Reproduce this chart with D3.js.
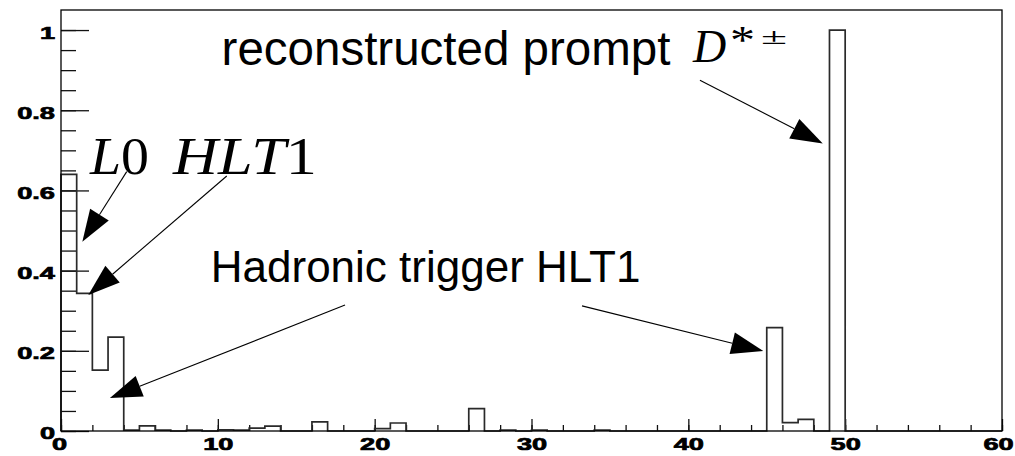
<!DOCTYPE html>
<html>
<head>
<meta charset="utf-8">
<script src="https://cdn.jsdelivr.net/npm/d3@7"></script>
<style>
  html, body { margin: 0; padding: 0; background: #fff; }
  svg { display: block; }
</style>
</head>
<body>
<svg id="chart" width="1015" height="456"></svg>
<script>
// Histogram bin contents, one value per unit bin from 0 to 60
const binEdges = d3.range(0, 61);
const binValues = [
  0.640, 0.343, 0.152, 0.234, 0.002, 0.013, 0.002, 0.000, 0.002, 0.000,
  0.003, 0.002, 0.007, 0.012, 0.000, 0.000, 0.023, 0.000, 0.000, 0.000,
  0.006, 0.020, 0.000, 0.000, 0.000, 0.000, 0.056, 0.000, 0.002, 0.000,
  0.002, 0.000, 0.000, 0.000, 0.002, 0.000, 0.000, 0.000, 0.000, 0.000,
  0.000, 0.000, 0.000, 0.000, 0.000, 0.258, 0.021, 0.029, 0.000, 1.000,
  0.000, 0.000, 0.000, 0.000, 0.000, 0.000, 0.000, 0.000, 0.000, 0.000
];

// Axis ticks and labels
const xMajorTicks = [0, 10, 20, 30, 40, 50, 60];
const xMinorTicks = d3.range(0, 61, 2);
const yMajorTicks = [0, 0.2, 0.4, 0.6, 0.8, 1];
const yMinorTicks = d3.range(0, 21).map(i => i * 0.05);
const yTickLabels = ["0", "0.2", "0.4", "0.6", "0.8", "1"];
const xTickLabels = ["0", "10", "20", "30", "40", "50", "60"];

// Annotations: arrows from [x, y] start to [x, y] tip, in data units
const arrowStarts = [[4.19, 0.647], [10.57, 0.636], [18.11, 0.314], [33.22, 0.312], [40.74, 0.875]];
const arrowTips   = [[1.36, 0.472], [1.74, 0.339], [3.12, 0.082], [44.78, 0.1995], [48.57, 0.717]];

const svg = d3.select("#chart");
const W = 1015, H = 456;
const margin = { top: 10, right: 13, bottom: 25, left: 61 };

const x = d3.scaleLinear().domain([0, 60]).range([margin.left, W - margin.right]);
const y = d3.scaleLinear().domain([0, 1.05]).range([H - margin.bottom, margin.top]);

const tickFont = "'Liberation Sans', Arial, Helvetica, sans-serif";

// Minor ticks
const gYMinor = svg.append("g").attr("transform", `translate(${x(0)},0)`)
  .call(d3.axisLeft(y).tickValues(yMinorTicks).tickSize(-15).tickFormat(""));
const gXMinor = svg.append("g").attr("transform", `translate(0,${y(0)})`)
  .call(d3.axisBottom(x).tickValues(xMinorTicks).tickSize(-6).tickFormat(""));

// Major ticks with labels
const gY = svg.append("g").attr("transform", `translate(${x(0)},0)`)
  .call(d3.axisLeft(y).tickValues(yMajorTicks).tickSize(-28)
    .tickFormat((d, i) => yTickLabels[i]));
const gX = svg.append("g").attr("transform", `translate(0,${y(0)})`)
  .call(d3.axisBottom(x).tickValues(xMajorTicks).tickSize(-12).tickPadding(6.5)
    .tickFormat((d, i) => xTickLabels[i]));

[gYMinor, gXMinor, gY, gX].forEach(g => {
  g.select(".domain").remove();
  g.selectAll(".tick line").attr("stroke", "#111").attr("stroke-width", 1.3);
});

function styleTickText(sel) {
  sel.attr("font-family", tickFont)
    .attr("font-weight", "bold")
    .attr("font-size", 17)
    .attr("fill", "#000")
    .attr("stroke", "#000")
    .attr("stroke-width", 0.7);
}

gY.selectAll(".tick text")
  .attr("x", 0)
  .attr("dy", "0.47em")
  .attr("transform", "translate(-6,0) scale(1.6,1)")
  .call(styleTickText);

gX.selectAll(".tick text")
  .attr("transform", "scale(1.6,1)")
  .call(styleTickText);
// end labels are nudged to stay inside the page
gX.selectAll(".tick text").filter(d => d === 0).attr("x", -1.2);
gX.selectAll(".tick text").filter(d => d === 60).attr("x", -2.5);

// Histogram outline
const outline = [[binEdges[0], 0]];
binValues.forEach((v, i) => {
  outline.push([binEdges[i], v]);
  outline.push([binEdges[i + 1], v]);
});
outline.push([binEdges[binEdges.length - 1], 0]);

svg.append("path")
  .datum(outline)
  .attr("fill", "none")
  .attr("stroke", "#2a2a2a")
  .attr("stroke-width", 1.7)
  .attr("d", d3.line().x(d => x(d[0])).y(d => y(d[1])));

// Frame
svg.append("rect")
  .attr("x", x(0)).attr("y", y(1.05))
  .attr("width", x(60) - x(0)).attr("height", y(0) - y(1.05))
  .attr("fill", "none").attr("stroke", "#000").attr("stroke-width", 1.3);

// Arrows with filled triangular heads
const headLen = 32, headHalf = 11;
arrowStarts.forEach((s, i) => {
  const t = arrowTips[i];
  const x0 = x(s[0]), y0 = y(s[1]), x1 = x(t[0]), y1 = y(t[1]);
  const dx = x1 - x0, dy = y1 - y0, len = Math.hypot(dx, dy);
  const ux = dx / len, uy = dy / len;
  const bx = x1 - ux * headLen, by = y1 - uy * headLen;
  svg.append("line")
    .attr("x1", x0).attr("y1", y0).attr("x2", bx).attr("y2", by)
    .attr("stroke", "#000").attr("stroke-width", 1.1);
  svg.append("polygon")
    .attr("points", [[x1, y1], [bx - uy * headHalf, by + ux * headHalf], [bx + uy * headHalf, by - ux * headHalf]]
      .map(p => p.join(",")).join(" "))
    .attr("fill", "#000");
});

// Text labels
const sans = "'Liberation Sans', Arial, Helvetica, sans-serif";
const serif = "'Liberation Serif', 'Times New Roman', serif";

svg.append("text")
  .attr("x", x(10.24)).attr("y", y(0.913))
  .attr("font-family", sans).attr("font-size", 47.5)
  .text("reconstructed prompt");

svg.append("text")
  .attr("x", x(9.55)).attr("y", y(0.371))
  .attr("font-family", sans).attr("font-size", 44)
  .text("Hadronic trigger HLT1");

// L0  HLT1 (math italic letters, upright digits)
const l0 = svg.append("text")
  .attr("x", x(1.85)).attr("y", y(0.641))
  .attr("font-family", serif).attr("font-size", 52)
  .attr("textLength", 59).attr("lengthAdjust", "spacingAndGlyphs");
l0.append("tspan").attr("font-style", "italic").text("L");
l0.append("tspan").text("0");

const hlt = svg.append("text")
  .attr("x", x(7.14)).attr("y", y(0.641))
  .attr("font-family", serif).attr("font-size", 52)
  .attr("textLength", 144).attr("lengthAdjust", "spacingAndGlyphs");
hlt.append("tspan").attr("font-style", "italic").text("HLT");
hlt.append("tspan").text("1");

// D*± label
const dX = x(40.3), dY = y(0.92);
svg.append("text")
  .attr("x", dX).attr("y", dY)
  .attr("font-family", serif).attr("font-style", "italic").attr("font-size", 46)
  .text("D");
svg.append("text")
  .attr("transform", `translate(${dX + 37},${dY - 9}) scale(1.25,1)`)
  .attr("font-family", serif).attr("font-size", 40)
  .text("*");
svg.append("text")
  .attr("transform", `translate(${dX + 68},${dY - 18.5}) scale(1.7,0.85)`)
  .attr("font-family", serif).attr("font-size", 28)
  .text("±");
</script>
</body>
</html>
